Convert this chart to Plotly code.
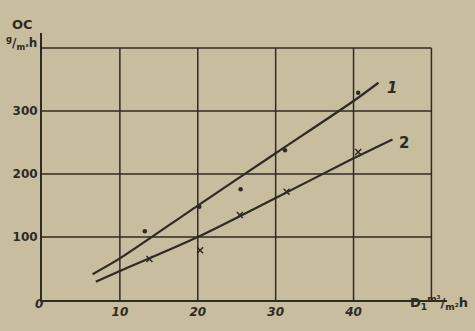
import plotly.graph_objects as go

# Data
line1_x = [6.5, 10, 20, 30, 40, 43.2]
line1_y = [41, 66, 150, 233, 316, 345]
line2_x = [6.9, 10, 20, 30, 40, 45.0]
line2_y = [29, 46, 100, 162, 225, 255]

pts1_x = [13.2, 20.2, 25.5, 31.2, 40.6]
pts1_y = [109, 148, 176, 238, 329]
pts2_x = [13.8, 20.3, 25.4, 31.4, 40.6]
pts2_y = [65, 79, 135, 172, 235]

x_grid = [10, 20, 30, 40, 50]
y_grid = [100, 200, 300, 400]
x_ticks = [10, 20, 30, 40]
y_ticks = [100, 200, 300]

BG = "#c9bd9f"
INK = "#2f2a24"
FONT = "DejaVu Sans"

fig = go.Figure()

fig.add_trace(go.Scatter(x=line1_x, y=line1_y, mode="lines",
                         line=dict(color=INK, width=2.2, shape="spline", smoothing=0.8),
                         showlegend=False))
fig.add_trace(go.Scatter(x=line2_x, y=line2_y, mode="lines",
                         line=dict(color=INK, width=2.2, shape="spline", smoothing=0.8),
                         showlegend=False))
fig.add_trace(go.Scatter(x=pts1_x, y=pts1_y, mode="markers",
                         marker=dict(symbol="circle", size=4.5, color=INK),
                         showlegend=False))
fig.add_trace(go.Scatter(x=pts2_x, y=pts2_y, mode="markers",
                         marker=dict(symbol="x-thin", size=6,
                                     line=dict(color=INK, width=1.5)),
                         showlegend=False))

shapes = []
for gx in x_grid:
    shapes.append(dict(type="line", xref="x", yref="y", x0=gx, x1=gx, y0=0, y1=400,
                       line=dict(color=INK, width=1.5), layer="below"))
for gy in y_grid:
    shapes.append(dict(type="line", xref="x", yref="y", x0=0, x1=50, y0=gy, y1=gy,
                       line=dict(color=INK, width=1.5), layer="below"))

annotations = [
    dict(x=44.1, y=337, text="<b><i>1</i></b>", showarrow=False, xref="x", yref="y",
         xanchor="left", font=dict(family=FONT, size=15, color=INK)),
    dict(x=45.6, y=250, text="<b>2</b>", showarrow=False, xref="x", yref="y",
         xanchor="left", font=dict(family=FONT, size=15, color=INK)),
    dict(x=33, y=315, text="<b><i>0</i></b>", showarrow=False, xref="paper", yref="paper",
         font=dict(family=FONT, size=12, color=INK)),
    dict(x=10, y=15, text="<b>OC</b>", showarrow=False, xref="paper", yref="paper",
         xanchor="left", font=dict(family=FONT, size=13, color=INK)),
    dict(x=4, y=32, text="<b><sup>g</sup>/<sub>m³</sub>h</b>", showarrow=False,
         xref="paper", yref="paper", xanchor="left",
         font=dict(family=FONT, size=12, color=INK)),
    dict(x=408, y=316, text="<b>D<sub>1</sub><sup>m³</sup>/<sub>m²</sub>h</b>",
         showarrow=False, xref="paper", yref="paper", xanchor="left",
         font=dict(family=FONT, size=13, color=INK)),
]

# convert pixel-placed annotations to paper coordinates
W, H = 475, 331
ML, MR, MT, MB = 42, 28, 33, 29
pw, ph = W - ML - MR, H - MT - MB
for a in annotations:
    if a["xref"] == "paper":
        a["x"] = (a["x"] - ML) / pw
        a["y"] = 1 - (a["y"] - MT) / ph

fig.update_layout(
    width=W, height=H,
    margin=dict(l=ML, r=MR, t=MT, b=MB, pad=0),
    paper_bgcolor=BG, plot_bgcolor=BG,
    shapes=shapes, annotations=annotations,
    xaxis=dict(range=[0, 52], showgrid=False, zeroline=False, showline=True,
               linecolor=INK, linewidth=2, tickvals=x_ticks,
               ticktext=["<b><i>%d</i></b>" % v for v in x_ticks], ticks="",
               tickfont=dict(family=FONT, size=12, color=INK), fixedrange=True),
    yaxis=dict(range=[0, 424], showgrid=False, zeroline=False, showline=True,
               linecolor=INK, linewidth=2, tickvals=y_ticks,
               ticktext=["<b>%d</b>" % v for v in y_ticks], ticks="",
               tickfont=dict(family=FONT, size=12, color=INK), fixedrange=True),
    showlegend=False,
)

fig.write_html("out.html", config={"displayModeBar": False},
               post_script="document.body.style.margin='0';document.body.style.background='%s';" % BG)
